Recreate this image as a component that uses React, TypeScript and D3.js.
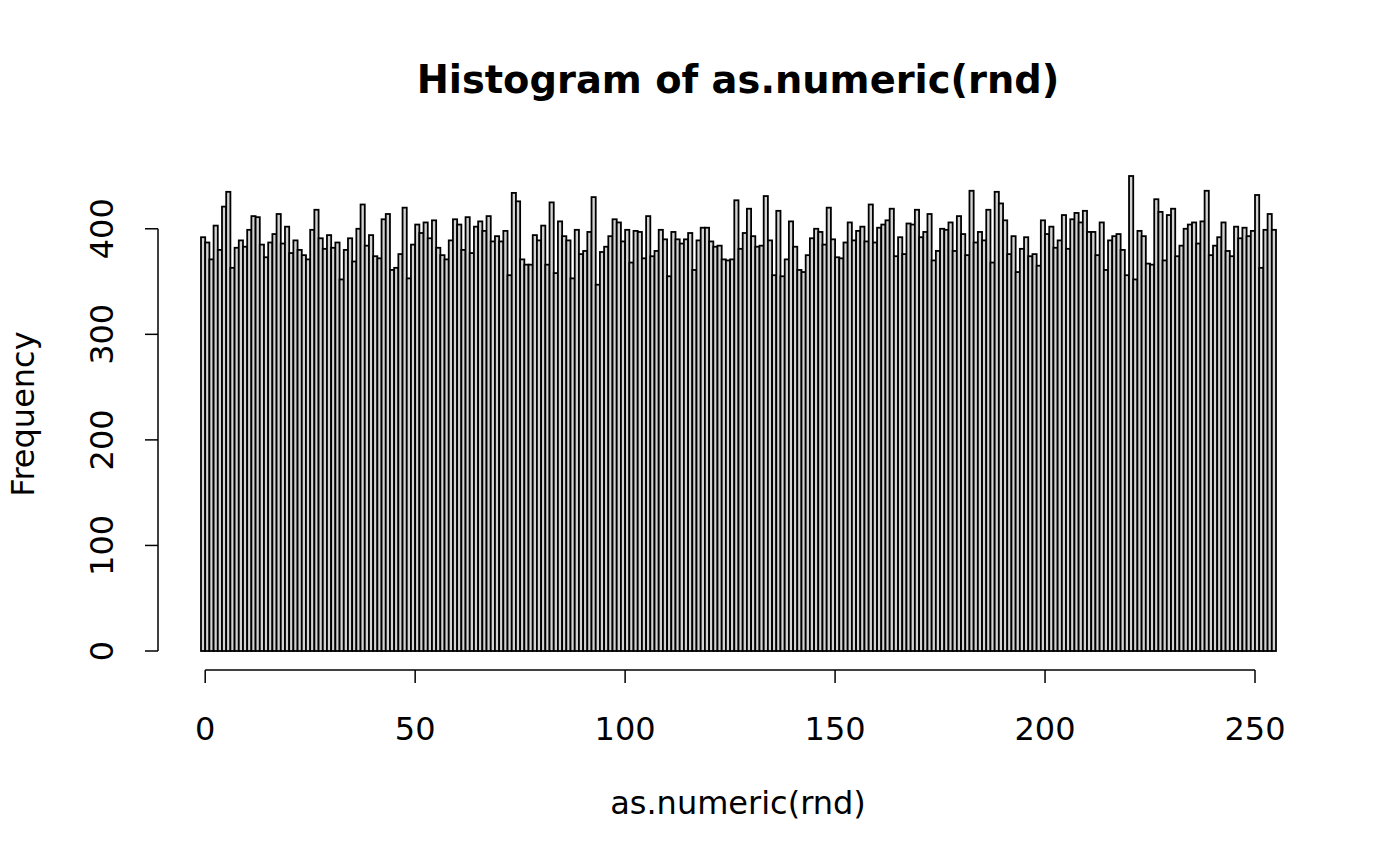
import React, { useEffect, useRef } from 'react';
import * as d3 from 'd3';

// counts per value 0..255 (bins (-1,0], (0,1], ... (254,255])
const counts0to63: number[] = [
    392, 387, 371, 403, 380, 421, 435, 363, 382, 389, 383, 399, 412, 411, 385, 373,
    387, 395, 414, 386, 402, 377, 389, 380, 375, 371, 399, 418, 391, 381, 394, 382,
    387, 352, 380, 391, 369, 400, 423, 384, 394, 374, 372, 409, 414, 361, 363, 376,
    420, 353, 385, 404, 396, 406, 391, 408, 382, 375, 371, 389, 409, 404, 380, 411,
];
const counts64to127: number[] = [
    377, 402, 407, 398, 412, 388, 393, 388, 398, 356, 434, 426, 371, 366, 366, 394,
    389, 403, 366, 425, 358, 407, 393, 389, 353, 399, 376, 379, 397, 430, 347, 378,
    383, 393, 409, 406, 388, 399, 368, 398, 397, 372, 412, 374, 379, 399, 390, 355,
    397, 390, 386, 390, 396, 361, 389, 401, 401, 388, 383, 384, 371, 370, 371, 427,
];
const counts128to191: number[] = [
    381, 396, 419, 393, 383, 384, 431, 389, 356, 417, 355, 371, 407, 383, 361, 359,
    375, 391, 400, 397, 385, 420, 390, 373, 372, 387, 406, 389, 398, 402, 388, 423,
    387, 401, 404, 408, 419, 374, 392, 376, 405, 404, 418, 392, 397, 414, 370, 379,
    400, 399, 406, 379, 412, 395, 375, 436, 387, 397, 389, 418, 368, 435, 424, 408,
];
const counts192to255: number[] = [
    376, 393, 359, 381, 392, 374, 376, 365, 408, 395, 402, 382, 389, 413, 381, 409,
    415, 406, 417, 397, 397, 375, 406, 361, 389, 393, 395, 380, 356, 450, 352, 398,
    393, 367, 366, 428, 416, 370, 413, 419, 374, 384, 400, 404, 406, 386, 407, 436,
    375, 384, 392, 406, 379, 374, 402, 391, 401, 393, 398, 432, 363, 399, 414, 399,
];
const counts = [...counts0to63, ...counts64to127, ...counts128to191, ...counts192to255];

const xTicks = [0, 50, 100, 150, 200, 250];
const yTicks = [0, 100, 200, 300, 400];

const titleText = 'Histogram of as.numeric(rnd)';
const xLabel = 'as.numeric(rnd)';
const yLabel = 'Frequency';

const W = 1400;
const H = 866;
const FONT = '"DejaVu Sans", Verdana, sans-serif';
const BASE = 32;

const App: React.FC = () => {
    const svgRef = useRef<SVGSVGElement>(null);

    useEffect(() => {
        document.body.style.margin = '0';
        if (!svgRef.current) return;
        const svg = d3.select(svgRef.current);
        svg.selectAll('*').remove();

        // R-style plot region with 4% axis extension
        const xMin = -1;
        const xMax = 255;
        const yMax = 450;
        const xPad = (xMax - xMin) * 0.04;
        const yPad = yMax * 0.04;

        const x = d3.scaleLinear()
            .domain([xMin - xPad, xMax + xPad])
            .range([158, 1319]);
        const y = d3.scaleLinear()
            .domain([-yPad, yMax + yPad])
            .range([670, 157]);

        svg.append('rect')
            .attr('width', W)
            .attr('height', H)
            .attr('fill', '#ffffff');

        // bars
        svg.append('g')
            .selectAll('rect')
            .data(counts)
            .join('rect')
            .attr('x', (_, i) => x(i - 1))
            .attr('width', (_, i) => x(i) - x(i - 1))
            .attr('y', d => y(d))
            .attr('height', d => y(0) - y(d))
            .attr('fill', '#d3d3d3')
            .attr('stroke', '#000')
            .attr('stroke-width', 1.8);

        // x axis
        const xAxis = svg.append('g').attr('stroke', '#000').attr('stroke-width', 1.5);
        xAxis.append('line')
            .attr('x1', x(xTicks[0]))
            .attr('x2', x(xTicks[xTicks.length - 1]))
            .attr('y1', 670)
            .attr('y2', 670);
        xAxis.selectAll('line.tick')
            .data(xTicks)
            .join('line')
            .attr('class', 'tick')
            .attr('x1', d => x(d))
            .attr('x2', d => x(d))
            .attr('y1', 670)
            .attr('y2', 683);
        svg.append('g')
            .selectAll('text')
            .data(xTicks)
            .join('text')
            .attr('x', d => x(d))
            .attr('y', 740)
            .attr('text-anchor', 'middle')
            .attr('font-family', FONT)
            .attr('font-size', BASE)
            .attr('fill', '#000')
            .text(d => String(d));

        // y axis
        const yAxis = svg.append('g').attr('stroke', '#000').attr('stroke-width', 1.5);
        yAxis.append('line')
            .attr('x1', 158)
            .attr('x2', 158)
            .attr('y1', y(yTicks[0]))
            .attr('y2', y(yTicks[yTicks.length - 1]));
        yAxis.selectAll('line.tick')
            .data(yTicks)
            .join('line')
            .attr('class', 'tick')
            .attr('x1', 145)
            .attr('x2', 158)
            .attr('y1', d => y(d))
            .attr('y2', d => y(d));
        svg.append('g')
            .selectAll('text')
            .data(yTicks)
            .join('text')
            .attr('transform', d => `translate(113,${y(d)}) rotate(-90)`)
            .attr('text-anchor', 'middle')
            .attr('font-family', FONT)
            .attr('font-size', BASE)
            .attr('fill', '#000')
            .text(d => String(d));

        // labels
        svg.append('text')
            .attr('x', 738)
            .attr('y', 93)
            .attr('text-anchor', 'middle')
            .attr('font-family', FONT)
            .attr('font-size', BASE * 1.2)
            .attr('font-weight', 'bold')
            .attr('fill', '#000')
            .text(titleText);

        svg.append('text')
            .attr('x', 738)
            .attr('y', 814)
            .attr('text-anchor', 'middle')
            .attr('font-family', FONT)
            .attr('font-size', BASE)
            .attr('fill', '#000')
            .text(xLabel);

        svg.append('text')
            .attr('transform', `translate(34,414) rotate(-90)`)
            .attr('text-anchor', 'middle')
            .attr('font-family', FONT)
            .attr('font-size', BASE)
            .attr('fill', '#000')
            .text(yLabel);
    }, []);

    return (
        <svg
            ref={svgRef}
            width={W}
            height={H}
            style={{ display: 'block' }}
        />
    );
};

export default App;
